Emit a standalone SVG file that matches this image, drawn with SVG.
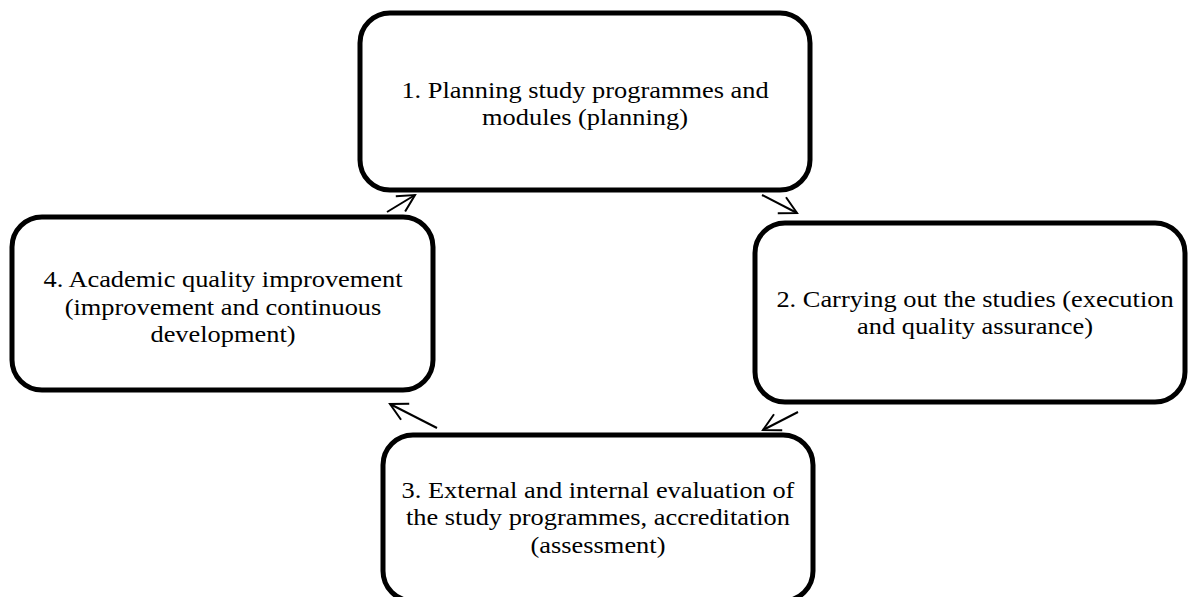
<svg xmlns="http://www.w3.org/2000/svg" width="1190" height="597" viewBox="0 0 1190 597">
  <style>
    .box { fill: #ffffff; stroke: #000000; stroke-width: 5; }
    .label { font-family: "Liberation Serif", "Times New Roman", serif; font-size: 24px; fill: #000000; text-anchor: middle; }
    .flow { fill: none; stroke: #000000; stroke-width: 2; }
  </style>
  <defs>
    <marker id="open-arrow" markerUnits="userSpaceOnUse" markerWidth="24" markerHeight="24" viewBox="-20 -12 24 24" refX="0" refY="0" orient="auto">
      <path d="M -17 -9 L 0 0 L -17 9" fill="none" stroke="#000000" stroke-width="2"/>
    </marker>
  </defs>
  <rect width="1190" height="597" fill="#ffffff"/>

  <!-- cycle connectors -->
  <g id="connectors">
    <line class="flow" x1="387" y1="212" x2="415" y2="195" marker-end="url(#open-arrow)"/>
    <line class="flow" x1="762" y1="195" x2="797" y2="213" marker-end="url(#open-arrow)"/>
    <line class="flow" x1="798" y1="412" x2="763" y2="430" marker-end="url(#open-arrow)"/>
    <line class="flow" x1="437" y1="428" x2="390" y2="404" marker-end="url(#open-arrow)"/>
  </g>

  <g id="node-planning">
    <rect class="box" x="360" y="13" width="450" height="177" rx="30" ry="30"/>
    <g transform="translate(585 0) scale(1.1 1)">
      <text class="label" x="0" y="98">1. Planning study programmes and</text>
      <text class="label" x="0" y="125">modules (planning)</text>
    </g>
  </g>

  <g id="node-execution">
    <rect class="box" x="755" y="223" width="430" height="179" rx="30" ry="30"/>
    <g transform="translate(975 0) scale(1.1 1)">
      <text class="label" x="0" y="307">2. Carrying out the studies (execution</text>
      <text class="label" x="0" y="334">and quality assurance)</text>
    </g>
  </g>

  <g id="node-assessment">
    <rect class="box" x="383" y="435" width="430" height="166" rx="30" ry="30"/>
    <g transform="translate(598 0) scale(1.1 1)">
      <text class="label" x="0" y="498">3. External and internal evaluation of</text>
      <text class="label" x="0" y="525">the study programmes, accreditation</text>
      <text class="label" x="0" y="553">(assessment)</text>
    </g>
  </g>

  <g id="node-improvement">
    <rect class="box" x="12" y="217" width="421" height="173" rx="30" ry="30"/>
    <g transform="translate(223 0) scale(1.1 1)">
      <text class="label" x="0" y="287">4. Academic quality improvement</text>
      <text class="label" x="0" y="315">(improvement and continuous</text>
      <text class="label" x="0" y="342">development)</text>
    </g>
  </g>
</svg>
